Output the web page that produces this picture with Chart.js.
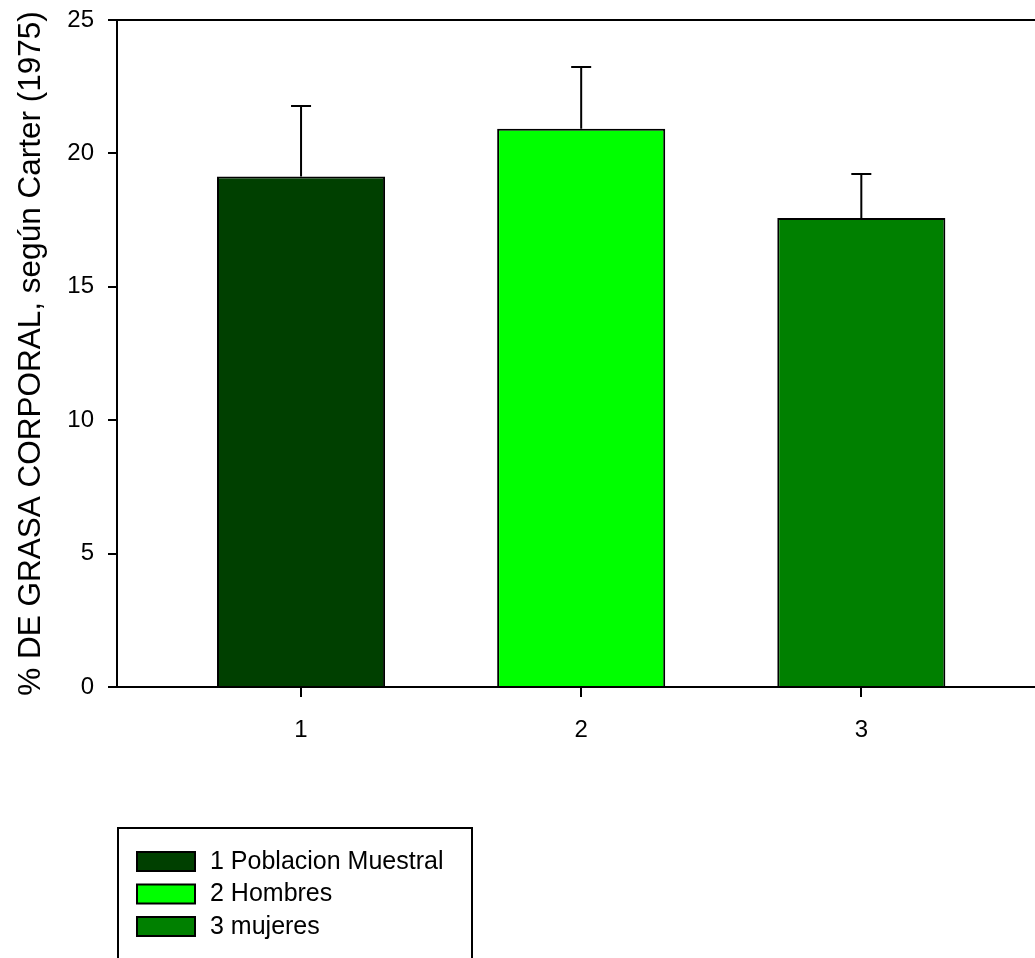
<!DOCTYPE html>
<html>
<head>
<meta charset="utf-8">
<script src="https://cdn.jsdelivr.net/npm/chart.js@4"></script>
<style>
  body { margin: 0; background: #fff; }
  #wrap { width: 1035px; height: 958px; position: relative; }
</style>
</head>
<body>
<div id="wrap"><canvas id="myChart"></canvas></div>
<script>
    // datos
    const categories = [1, 2, 3];
    const groupNames = ['1 Poblacion Muestral', '2 Hombres', '3 mujeres'];
    const means = [19.13, 20.92, 17.58];
    const errors = [2.65, 2.32, 1.65];
    const barColors = ['#004000', '#00ff00', '#008000'];
    const yTicks = [0, 5, 10, 15, 20, 25];

    const FONT = 'Liberation Sans, Arial, sans-serif';
    const ctx = document.getElementById('myChart');

    // barras de error, marco superior y leyenda
    const extras = {
        id: 'extras',
        afterDatasetsDraw(chart) {
            const c = chart.ctx;
            const xs = chart.scales.x, ys = chart.scales.y;
            c.save();
            c.strokeStyle = '#000';
            c.lineWidth = 2;
            for (let i = 0; i < means.length; i++) {
                const x = xs.getPixelForValue(categories[i]);
                const y0 = ys.getPixelForValue(means[i]);
                const y1 = ys.getPixelForValue(means[i] + errors[i]);
                c.beginPath();
                c.moveTo(x, y0);
                c.lineTo(x, y1);
                c.moveTo(x - 10, y1);
                c.lineTo(x + 10, y1);
                c.stroke();
            }
            // linea superior
            const a = chart.chartArea;
            c.beginPath();
            c.moveTo(a.left, a.top);
            c.lineTo(chart.width, a.top);
            c.stroke();
            c.restore();
        },
        afterDraw(chart) {
            const c = chart.ctx;
            c.save();
            c.strokeStyle = '#000';
            c.lineWidth = 2;
            c.strokeRect(118, 828, 354, 140);
            c.font = '25px ' + FONT;
            c.textBaseline = 'middle';
            for (let i = 0; i < groupNames.length; i++) {
                const y = 852 + i * 32.5;
                c.fillStyle = barColors[i];
                c.fillRect(137, y, 58, 19);
                c.strokeRect(137, y, 58, 19);
                c.fillStyle = '#000';
                c.fillText(groupNames[i], 210, y + 10);
            }
            c.restore();
        }
    };

    var chart = new Chart(ctx, {
        type: 'bar',
        data: {
            datasets: [{
                data: means.map((v, i) => ({x: categories[i], y: v})),
                backgroundColor: barColors,
                borderColor: '#000',
                borderWidth: 2,
                barPercentage: 0.6,
                categoryPercentage: 1
            }]
        },
        options: {
            responsive: true,
            maintainAspectRatio: false,
            animation: false,
            layout: { padding: { top: 20, right: 0, left: 0, bottom: 0 } },
            plugins: {
                legend: { display: false },
                tooltip: { enabled: false }
            },
            scales: {
                x: {
                    type: 'linear',
                    offset: false,
                    min: 0.343,
                    max: 3.62,
                    afterBuildTicks: s => { s.ticks = categories.map(v => ({value: v})); },
                    afterFit: s => { s.height = 958 - 687; s.paddingLeft = 0; s.paddingRight = 0; },
                    grid: { offset: false, drawOnChartArea: false, drawTicks: true, tickLength: 10, color: '#000', lineWidth: 2 },
                    border: { display: true, color: '#000', width: 2 },
                    ticks: { color: '#000', font: { family: FONT, size: 24 }, padding: 19, maxRotation: 0 }
                },
                y: {
                    min: 0,
                    max: 25,
                    afterBuildTicks: s => { s.ticks = yTicks.map(v => ({value: v})); },
                    afterFit: s => { s.width = 117; s.paddingTop = 0; s.paddingBottom = 0; },
                    grid: { drawOnChartArea: false, drawTicks: true, tickLength: 9, color: '#000', lineWidth: 2 },
                    border: { display: true, color: '#000', width: 2 },
                    ticks: { color: '#000', font: { family: FONT, size: 24 }, padding: 14 },
                    title: {
                        display: true,
                        text: '% DE GRASA CORPORAL, según Carter (1975)',
                        color: '#000',
                        font: { family: FONT, size: 31.5 },
                        padding: { top: 12, bottom: 0 }
                    }
                }
            }
        },
        plugins: [extras]
    });
</script>
</body>
</html>
